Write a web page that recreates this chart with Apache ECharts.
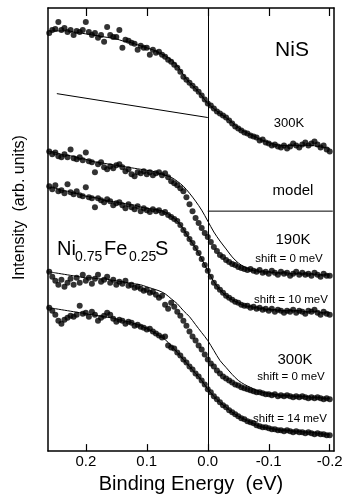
<!DOCTYPE html>
<html>
<head>
<meta charset="utf-8">
<title>NiS / Ni0.75Fe0.25S Fermi edge</title>
<script src="https://cdn.jsdelivr.net/npm/echarts@6.0.0/dist/echarts.min.js"></script>
<style>
  html, body { margin: 0; padding: 0; background: #fff; }
  #chart { width: 346px; height: 499px; }
</style>
</head>
<body>
<div id="chart"></div>
<script>
// energy grids (eV): measured points every 5 meV, fitted / model curves every 10 meV
const dotStart = 0.26, dotStep = 0.005, dotCount = 93;
const fitStart = 0.26, fitStep = 0.01, fitCount = 47;

const energyTicks = [0.2, 0.1, 0.0, -0.1, -0.2];

// NiS, 300K
const nisDots = [420,423,424,431,423,425,421,423,418,422,421,423,431,421,418,420,415,418,411,426,418,416,416,423,405,413,412,410,409,403,407,405,405,398,403,400,401,398,396,393,391,388,385,381,376,
  373,370,367,364,361,357,353,349,347,344,341,339,337,335,332,329,326,324,322,320,319,317,316,315,312,313,310,309,307,308,306,305,307,304,306,309,307,305,308,310,307,309,311,308,305,307,303,301];
const nisFit = [422,422,422,422,421,420,419,418,417,416,415,414,412,411,409,407,405,403,400,397,393,387,378,370,364,357,349,
  344,339,335,330,325,321,318,315,312,310,308,307,307,307,307,307,307,306,305,304];
// straight reference line under the NiS edge
const nisLineEnergy = [0.2475, 0.0];
const nisLineIntensity = [359, 335];
// short horizontal line next to "model"
const modelLineEnergy = [0.0, -0.205];
const modelLineIntensity = [241, 241];

// Ni0.75Fe0.25S, 190K, shift = 0 meV
const k190Dots = [301,298,300,296,295,298,295,303,294,293,295,292,300,291,290,280,288,290,285,283,286,284,287,288,285,281,283,278,276,280,279,281,278,280,277,279,280,277,279,275,271,269,267,264,261,
  255,248,241,234,229,224,219,215,210,205,201,197,195,192,190,188,187,185,184,183,182,183,181,180,182,179,180,178,181,179,177,180,178,179,176,178,180,177,179,177,178,176,179,177,175,178,176,176];
const k190Model = [301,300,298,297,296,294,293,291,290,289,288,287,286,285,284,283,282,281,279,277,275,271,266,259,251,242,231,
  220,211,203,195,189,185,182,181,180,180,179,179,179,178,178,178,178,177,177,177];

// 190K, shift = 10 meV
const k190sDots = [266,263,267,261,262,259,268,260,258,261,257,256,265,255,254,245,254,252,250,253,251,247,249,250,247,244,248,245,243,246,241,244,242,240,243,241,242,239,240,237,235,233,231,227,222,
  218,213,209,204,199,193,187,181,175,169,165,162,159,156,154,152,150,149,147,146,146,144,145,143,144,142,143,141,143,140,142,141,139,141,140,142,139,141,140,138,141,140,142,139,137,140,138,137];
const k190sFit = [265,264,262,261,259,258,256,255,254,252,251,250,249,248,247,245,244,243,242,240,236,231,223,213,204,193,181,
  170,162,156,152,149,146,145,144,143,142,142,141,141,141,141,140,140,140,139,139];

// 300K, shift = 0 meV
const k300Dots = [180,175,171,167,172,165,169,173,167,174,169,177,171,174,168,173,177,170,172,175,169,172,167,170,168,171,166,167,164,165,163,161,162,159,160,157,154,156,147,143,149,145,140,136,131,
  126,120,115,111,106,102,97,92,88,85,81,78,75,73,71,69,67,66,64,63,62,61,60,59,59,58,57,57,56,57,55,56,55,56,55,54,55,54,55,54,53,54,53,54,53,52,53,52];
const k300Model = [180,179,178,177,176,175,174,174,173,173,172,171,170,169,168,167,165,163,161,158,153,148,141,135,127,119,111,
  101,91,84,77,71,67,64,61,59,58,57,56,56,55,55,55,54,54,53,53];

// 300K, shift = 14 meV
const k300sDots = [144,141,137,131,128,132,134,136,135,137,146,138,139,135,140,137,131,134,136,139,137,133,130,132,131,128,130,129,126,127,125,124,122,123,120,118,116,114,115,106,104,103,99,96,92,
  89,85,82,78,75,71,67,62,59,55,52,49,46,44,41,39,37,35,33,32,30,29,28,26,25,24,24,23,22,22,21,21,20,21,20,19,20,19,19,18,19,18,17,18,17,17,16,16];
const k300sFit = [144,143,142,141,140,139,138,137,136,135,134,133,131,130,128,126,123,120,116,112,106,99,92,85,78,71,62,
  55,49,44,39,35,32,29,26,24,23,22,21,21,20,20,19,19,18,17,17];

const font = "Liberation Sans, Arial, Helvetica, sans-serif";

function grid(start, step, count) {
  const out = [];
  for (let i = 0; i < count; i++) out.push(+(start - step * i).toFixed(3));
  return out;
}
const dotEnergy = grid(dotStart, dotStep, dotCount);
const fitEnergy = grid(fitStart, fitStep, fitCount);

function pairs(xs, ys) {
  return ys.map((y, i) => [xs[i], y]);
}

function dots(name, values) {
  return {
    name: name,
    type: "scatter",
    data: pairs(dotEnergy, values),
    symbol: "circle",
    symbolSize: 6,
    itemStyle: { color: "#000" },
    z: 3
  };
}

function curve(name, xs, values, smooth) {
  return {
    name: name,
    type: "line",
    data: pairs(xs, values),
    showSymbol: false,
    smooth: smooth,
    lineStyle: { color: "#000", width: 1 },
    z: 2
  };
}

const labels = [
  { text: "NiS", x: 292, y: 50, size: 21 },
  { text: "300K", x: 289, y: 123, size: 13 },
  { text: "model", x: 293, y: 191, size: 15 },
  { text: "190K", x: 293, y: 240, size: 15 },
  { text: "shift = 0 meV", x: 289, y: 259, size: 11.5 },
  { text: "shift = 10 meV", x: 291, y: 300, size: 11.5 },
  { text: "300K", x: 295, y: 360, size: 15 },
  { text: "shift = 0 meV", x: 291, y: 377, size: 11.5 },
  { text: "shift = 14 meV", x: 290, y: 419, size: 11.5 }
];
// sample name with subscripts, piece by piece
const formula = [
  { text: "Ni", x: 57, y: 249, size: 20 },
  { text: "0.75", x: 75, y: 257, size: 14 },
  { text: "Fe", x: 104, y: 249, size: 20 },
  { text: "0.25", x: 129, y: 257, size: 14 },
  { text: "S", x: 155, y: 249, size: 20 }
];

const graphics = labels.map(l => ({
  type: "text",
  x: l.x,
  y: l.y,
  silent: true,
  style: { text: l.text, fill: "#000", font: l.size + "px " + font, align: "center", verticalAlign: "middle" }
})).concat(formula.map(l => ({
  type: "text",
  x: l.x,
  y: l.y,
  silent: true,
  style: { text: l.text, fill: "#000", font: l.size + "px " + font, align: "left", verticalAlign: "middle" }
})));

const chart = echarts.init(document.getElementById("chart"));
const frame = { show: true, onZero: false, lineStyle: { color: "#000", width: 1.5 } };

const option = {
  animation: false,
  backgroundColor: "#fff",
  textStyle: { fontFamily: font, color: "#000" },
  grid: { left: 48, right: 12, top: 8, bottom: 46 },
  xAxis: [
    {
      type: "value",
      inverse: true,
      min: -0.207,
      max: 0.262,
      position: "bottom",
      name: "Binding Energy  (eV)",
      nameLocation: "middle",
      nameGap: 21,
      nameTextStyle: { fontSize: 20, color: "#000", fontFamily: font },
      axisLine: frame,
      axisTick: { show: true, inside: true, length: 7, customValues: energyTicks, lineStyle: { color: "#000", width: 1.2 } },
      axisLabel: {
        show: true,
        customValues: energyTicks,
        formatter: v => v.toFixed(1),
        fontSize: 15,
        color: "#000",
        margin: 3,
        fontFamily: font
      },
      splitLine: { show: false }
    },
    {
      type: "value",
      inverse: true,
      min: -0.207,
      max: 0.262,
      position: "top",
      axisLine: frame,
      axisTick: { show: true, inside: true, length: 8, customValues: energyTicks, lineStyle: { color: "#000", width: 1.2 } },
      axisLabel: { show: false },
      splitLine: { show: false }
    }
  ],
  yAxis: [
    {
      type: "value",
      min: 0,
      max: 445,
      position: "left",
      name: "Intensity  (arb. units)",
      nameLocation: "middle",
      nameRotate: 90,
      nameGap: 20,
      // the title sits a little above the middle of the frame
      nameTextStyle: { fontSize: 16, color: "#000", fontFamily: font, padding: [0, 0, 0, 44] },
      axisLine: frame,
      axisTick: { show: false },
      axisLabel: { show: false },
      splitLine: { show: false }
    },
    {
      type: "value",
      min: 0,
      max: 445,
      position: "right",
      axisLine: frame,
      axisTick: { show: false },
      axisLabel: { show: false },
      splitLine: { show: false }
    }
  ],
  graphic: graphics,
  series: [
    curve("NiS reference", nisLineEnergy, nisLineIntensity, false),
    Object.assign(curve("model marker", modelLineEnergy, modelLineIntensity, false), {
      markLine: {
        silent: true,
        symbol: ["none", "none"],
        label: { show: false },
        lineStyle: { color: "#000", width: 1, type: "solid" },
        data: [{ xAxis: 0 }]
      }
    }),
    curve("NiS fit", fitEnergy, nisFit, 0.3),
    dots("NiS 300K", nisDots),
    curve("190K model", fitEnergy, k190Model, 0.3),
    dots("190K shift 0", k190Dots),
    curve("190K fit", fitEnergy, k190sFit, 0.3),
    dots("190K shift 10", k190sDots),
    curve("300K model", fitEnergy, k300Model, 0.3),
    dots("300K shift 0", k300Dots),
    curve("300K fit", fitEnergy, k300sFit, 0.3),
    dots("300K shift 14", k300sDots)
  ]
};

chart.setOption(option);
</script>
</body>
</html>
